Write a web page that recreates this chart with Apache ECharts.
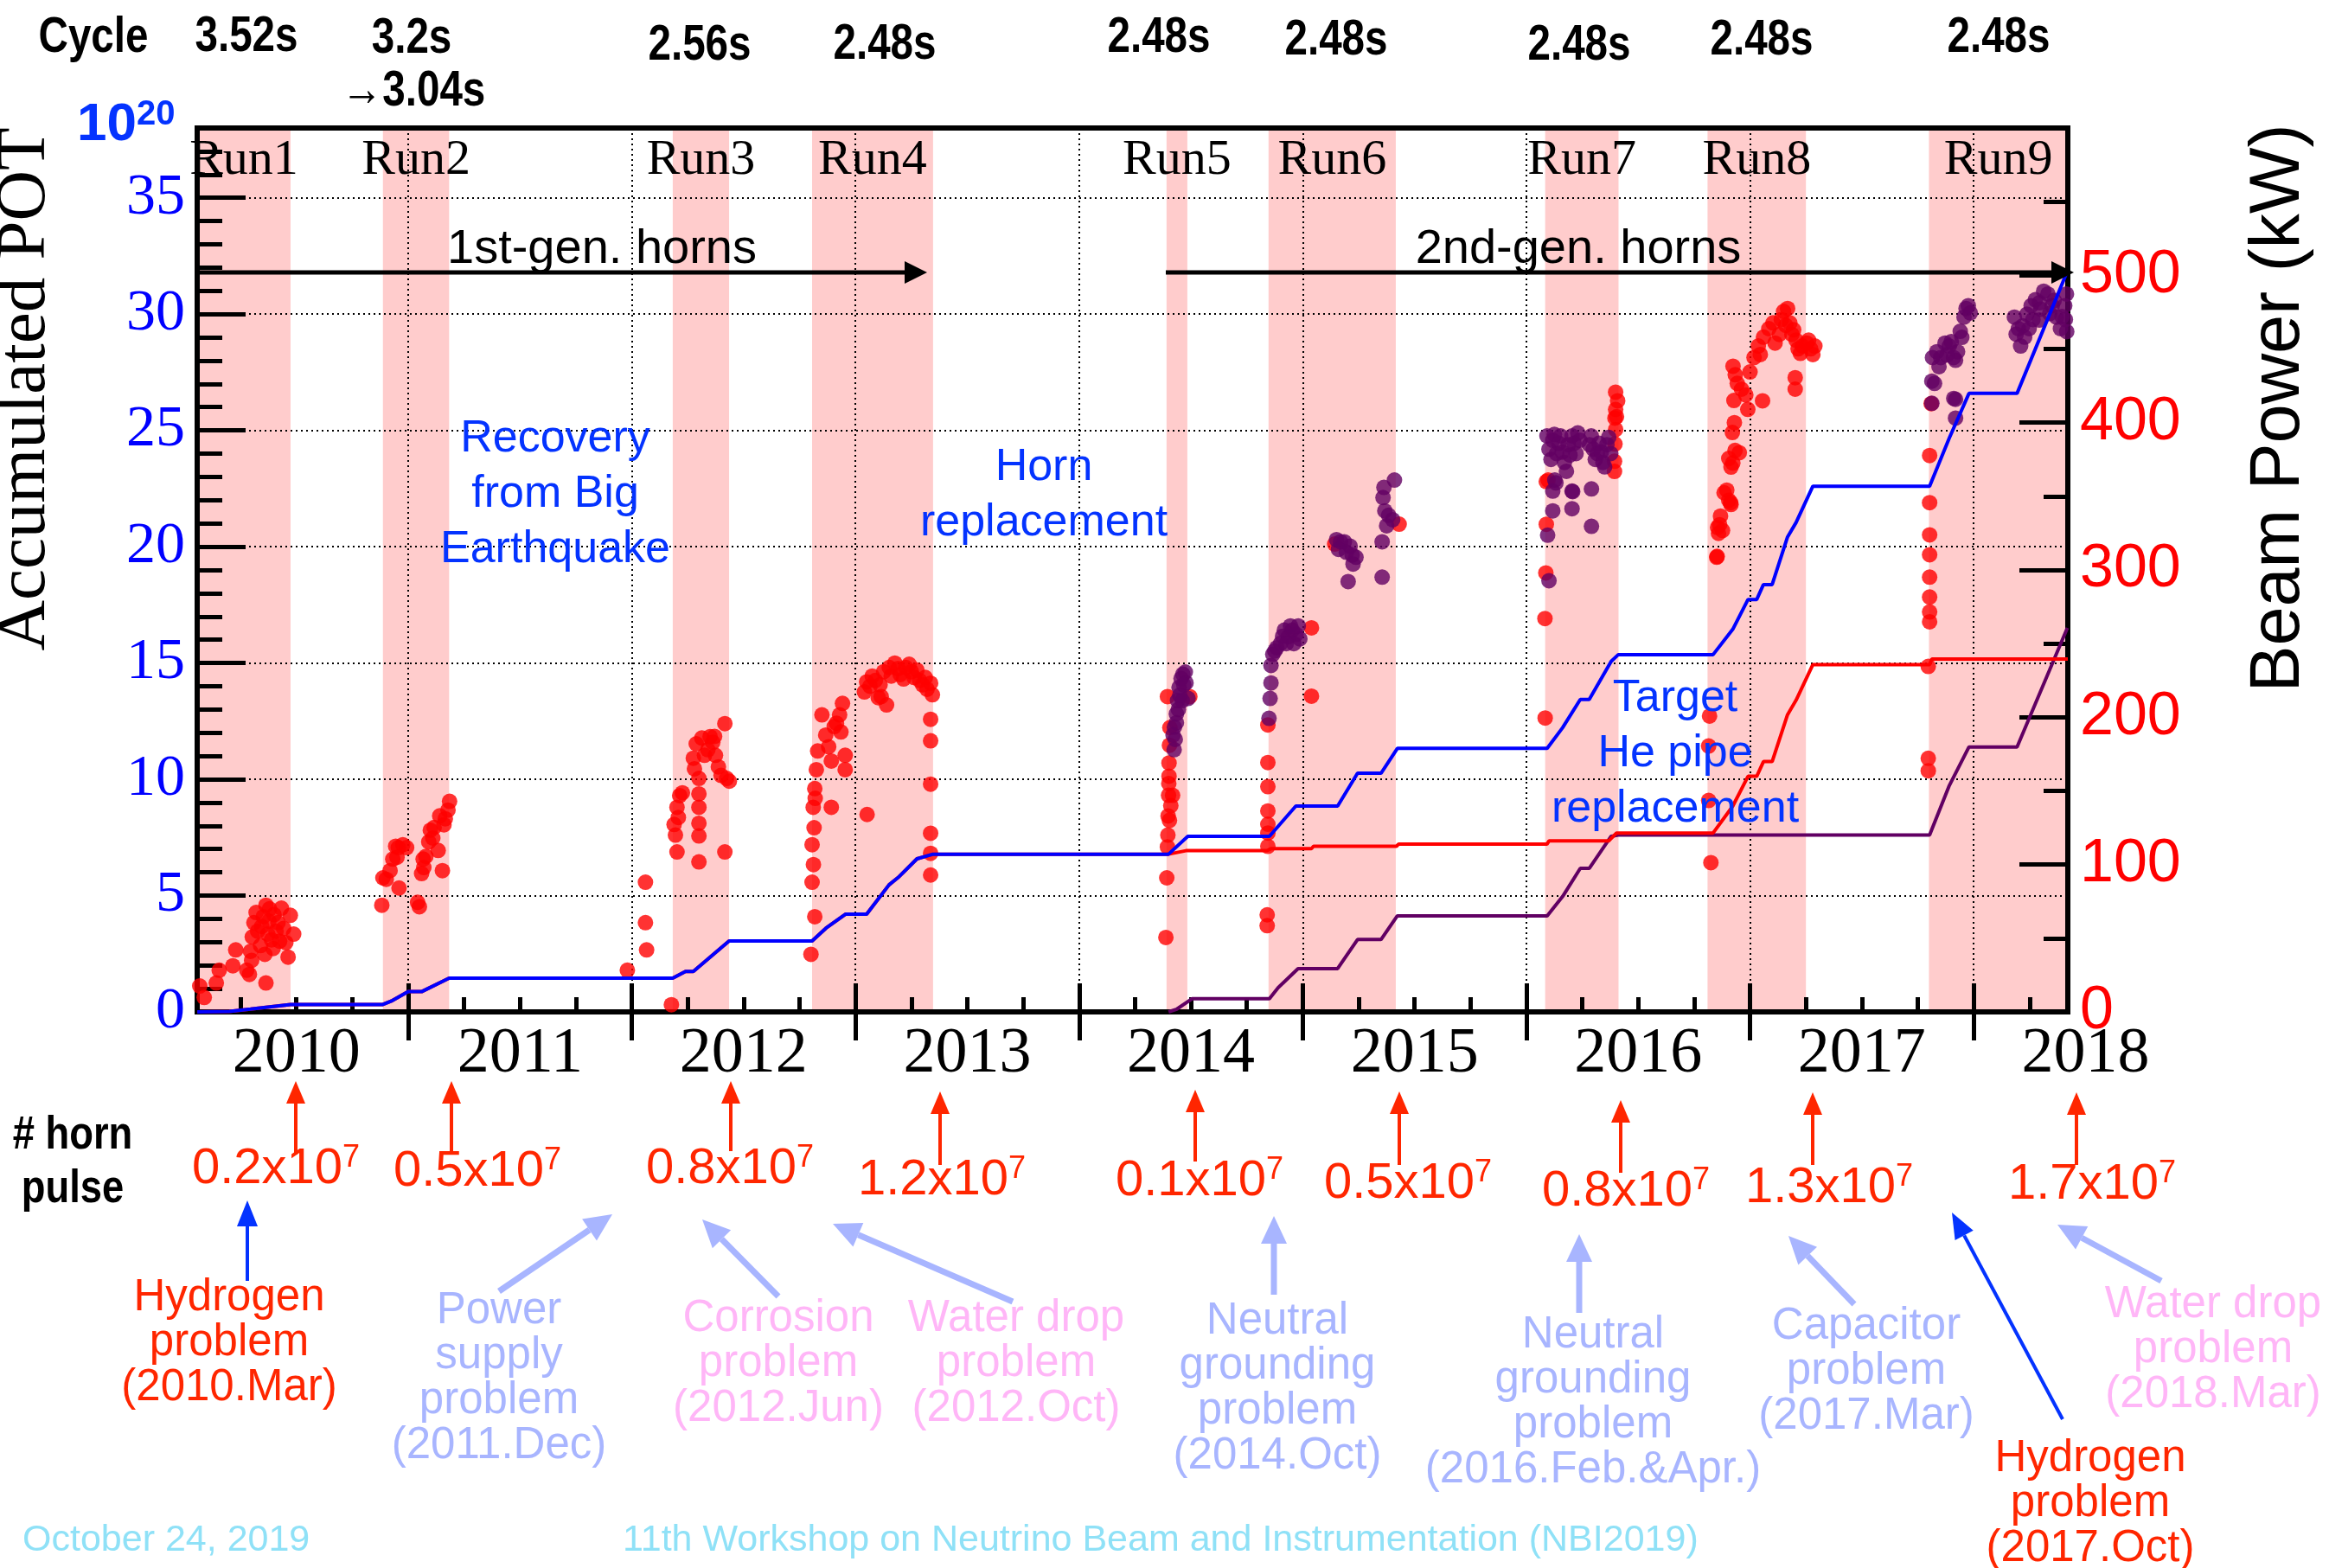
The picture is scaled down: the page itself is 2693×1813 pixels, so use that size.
<!DOCTYPE html>
<html>
<head>
<meta charset="utf-8">
<title>T2K beam operation history</title>
<script src="https://cdn.jsdelivr.net/npm/echarts@6/dist/echarts.min.js"></script>
<style>
  html, body { margin: 0; padding: 0; background: #ffffff; }
  #chart { width: 2693px; height: 1813px; }
</style>
</head>
<body>
<div id="chart"></div>
<script>
// ---------------- data ----------------
// time axis in decimal years
const X_MIN = 2010.0565;
const X_MAX = 2018.421;

const yearLabels = [2010, 2011, 2012, 2013, 2014, 2015, 2016, 2017, 2018];
const yearBoundaryTicks = [2011, 2012, 2013, 2014, 2015, 2016, 2017, 2018];
const quarterTicks = [2010.25, 2010.5, 2010.75, 2011.25, 2011.5, 2011.75, 2012.25, 2012.5, 2012.75,
  2013.25, 2013.5, 2013.75, 2014.25, 2014.5, 2014.75, 2015.25, 2015.5, 2015.75,
  2016.25, 2016.5, 2016.75, 2017.25, 2017.5, 2017.75, 2018.25];
const potMajorTicks = [0, 5, 10, 15, 20, 25, 30, 35];
const potMinorTicks = [1, 2, 3, 4, 6, 7, 8, 9, 11, 12, 13, 14, 16, 17, 18, 19, 21, 22, 23, 24,
  26, 27, 28, 29, 31, 32, 33, 34, 36, 37];

// run periods (beam on)
const runNames = ['Run1', 'Run2', 'Run3', 'Run4', 'Run5', 'Run6', 'Run7', 'Run8', 'Run9'];
const runStart = [2010.0565, 2010.887, 2012.183, 2012.806, 2014.391, 2014.847, 2016.084, 2016.810, 2017.800];
const runEnd   = [2010.474, 2011.183, 2012.435, 2013.347, 2014.484, 2015.416, 2016.412, 2017.250, 2018.421];

// accumulated POT [year, 1e20 POT]
const totalPOT = [[2010.057, 0], [2010.20, 0.02], [2010.295, 0.12], [2010.474, 0.32], [2010.887, 0.32],
  [2010.93, 0.49], [2011.0, 0.87], [2011.06, 0.87], [2011.183, 1.45], [2012.183, 1.45],
  [2012.24, 1.74], [2012.275, 1.74], [2012.435, 3.05], [2012.806, 3.05], [2012.868, 3.6],
  [2012.955, 4.2], [2013.05, 4.2], [2013.15, 5.46], [2013.19, 5.77], [2013.275, 6.58],
  [2013.347, 6.78], [2014.40, 6.78], [2014.486, 7.55], [2014.851, 7.55], [2014.969, 8.85],
  [2015.156, 8.85], [2015.245, 10.26], [2015.35, 10.26], [2015.423, 11.33], [2016.093, 11.33],
  [2016.162, 12.22], [2016.241, 13.43], [2016.281, 13.43], [2016.379, 15.07], [2016.411, 15.36],
  [2016.835, 15.36], [2016.923, 16.45], [2016.991, 17.73], [2017.03, 17.73], [2017.06, 18.37],
  [2017.099, 18.37], [2017.167, 20.4], [2017.206, 21.04], [2017.281, 22.6], [2017.803, 22.6],
  [2017.891, 24.67], [2017.979, 26.59], [2018.194, 26.59], [2018.415, 31.75]];

const nuPOT = [[2010.057, 0], [2010.20, 0.02], [2010.295, 0.12], [2010.474, 0.32], [2010.887, 0.32],
  [2010.93, 0.49], [2011.0, 0.87], [2011.06, 0.87], [2011.183, 1.45], [2012.183, 1.45],
  [2012.24, 1.74], [2012.275, 1.74], [2012.435, 3.05], [2012.806, 3.05], [2012.868, 3.6],
  [2012.955, 4.2], [2013.05, 4.2], [2013.15, 5.46], [2013.19, 5.77], [2013.275, 6.58],
  [2013.347, 6.78], [2014.40, 6.78], [2014.478, 6.93], [2014.841, 6.93], [2014.858, 7.02],
  [2015.039, 7.02], [2015.048, 7.12], [2015.419, 7.12], [2015.428, 7.21], [2016.092, 7.21],
  [2016.101, 7.35], [2016.368, 7.35], [2016.403, 7.69], [2016.835, 7.69], [2016.923, 8.85],
  [2016.991, 10.13], [2017.03, 10.13], [2017.06, 10.76], [2017.099, 10.76], [2017.167, 12.76],
  [2017.206, 13.4], [2017.281, 14.93], [2017.803, 14.93], [2017.813, 15.17], [2018.421, 15.17]];

const antinuPOT = [[2014.40, 0], [2014.437, 0.12], [2014.506, 0.57], [2014.851, 0.57], [2014.89, 1.04],
  [2014.979, 1.86], [2015.156, 1.86], [2015.245, 3.11], [2015.35, 3.11], [2015.423, 4.13],
  [2016.093, 4.13], [2016.162, 4.96], [2016.241, 6.17], [2016.281, 6.17], [2016.379, 7.55],
  [2016.411, 7.6], [2017.803, 7.6], [2017.891, 9.73], [2017.979, 11.39], [2018.194, 11.39],
  [2018.419, 16.51]];

// beam power in neutrino mode [year, kW]
const nuPower = [
  // Run1
  [2010.068, 17.6], [2010.088, 9.8], [2010.142, 19.6], [2010.155, 28.3], [2010.216, 31.3], [2010.229, 42.1],
  [2010.278, 28.3], [2010.290, 25.4], [2010.295, 41.1], [2010.303, 50.9], [2010.310, 60.6], [2010.320, 67.5],
  [2010.327, 54.8], [2010.340, 45.0], [2010.352, 64.6], [2010.359, 39.1], [2010.364, 72.4], [2010.372, 52.8],
  [2010.377, 61.6], [2010.389, 48.9], [2010.396, 43.0], [2010.409, 54.8], [2010.418, 60.6], [2010.433, 70.4],
  [2010.443, 56.7], [2010.453, 47.0], [2010.463, 37.2], [2010.473, 65.6], [2010.488, 52.8], [2010.364, 19.6],
  [2010.300, 35], [2010.345, 58], [2010.400, 66], [2010.425, 48], [2010.38, 70],
  // Run2
  [2010.882, 72.4], [2010.887, 91.0], [2010.902, 90.0], [2010.919, 95.9], [2010.931, 103.7], [2010.944, 112.5],
  [2010.956, 111.5], [2010.976, 113.5], [2010.959, 84.1], [2010.993, 111.5], [2011.042, 74.4], [2011.050, 71.4],
  [2011.060, 93.9], [2011.067, 103.7], [2011.079, 105.6], [2011.092, 115.4], [2011.099, 123.3], [2011.116, 125.2],
  [2011.134, 109.6], [2011.141, 133.1], [2011.153, 95.9], [2011.166, 131.1], [2011.178, 137.0], [2011.185, 142.9],
  [2010.95, 105], [2011.07, 98], [2011.11, 118], [2011.16, 127],
  // Run3
  [2011.980, 28.3], [2012.061, 88.0], [2012.061, 60.6], [2012.066, 42.1], [2012.177, 4.9],
  [2012.189, 127.2], [2012.202, 108.6], [2012.202, 138.9], [2012.214, 146.8], [2012.226, 148.7], [2012.208, 132],
  [2012.195, 120], [2012.275, 172.2], [2012.288, 182.0], [2012.300, 158.5], [2012.300, 138.9], [2012.300, 119.4],
  [2012.300, 101.8], [2012.300, 128], [2012.300, 148], [2012.313, 185.9], [2012.325, 174.2], [2012.350, 186.9],
  [2012.362, 183.0], [2012.374, 174.2], [2012.387, 166.3], [2012.399, 160.5], [2012.416, 195.7], [2012.424, 158.5],
  [2012.436, 156.6], [2012.416, 108.6], [2012.28, 165], [2012.34, 178], [2012.37, 187],
  // Run4
  [2012.801, 39.1], [2012.806, 88.0], [2012.806, 113.5], [2012.811, 138.9], [2012.818, 151.6], [2012.825, 164.4],
  [2012.831, 177.1], [2012.850, 201.6], [2012.867, 187.9], [2012.892, 170.3], [2012.892, 138.9], [2012.905, 193.7],
  [2012.929, 201.6], [2012.942, 209.4], [2012.954, 174.2], [2012.954, 164.4], [2012.818, 64.6], [2012.812, 100],
  [2012.815, 125], [2012.82, 145], [2012.88, 180], [2012.915, 196], [2012.935, 190],
  [2013.040, 217.2], [2013.052, 134.0], [2013.065, 221.1], [2013.089, 225.0], [2013.102, 213.3], [2013.126, 230.9],
  [2013.139, 208.4], [2013.151, 233.8], [2013.176, 236.8], [2013.200, 229.0], [2013.225, 233.8], [2013.250, 230.9],
  [2013.262, 227.0], [2013.287, 225.0], [2013.312, 227.0], [2013.336, 223.1], [2013.344, 215.3], [2013.336, 198.6],
  [2013.336, 184.0], [2013.336, 154.6], [2013.336, 121.3], [2013.336, 107.6], [2013.336, 92.9], [2013.05, 224],
  [2013.075, 228], [2013.11, 222], [2013.16, 228], [2013.19, 233], [2013.215, 226], [2013.24, 236],
  [2013.275, 232], [2013.30, 222], [2013.32, 219], [2013.115, 214],
  // Run5
  [2014.388, 50.5], [2014.392, 91.0], [2014.395, 112], [2014.397, 120], [2014.398, 133], [2014.400, 147],
  [2014.401, 155], [2014.402, 160], [2014.402, 169], [2014.404, 181], [2014.406, 193], [2014.418, 147],
  [2014.395, 214], [2014.495, 214], [2014.410, 140], [2014.404, 130],
  // Run6
  [2014.841, 58.5], [2014.841, 65.9], [2014.844, 112.4], [2014.844, 121.4], [2014.844, 127.4], [2014.844, 136.4],
  [2014.844, 152.9], [2014.844, 169.3], [2014.844, 194.8], [2015.039, 260.7], [2015.039, 214.3], [2015.431, 331.1],
  [2015.143, 317.6],
  // Run7
  [2016.084, 199.5], [2016.083, 267], [2016.087, 298], [2016.089, 331], [2016.089, 360], [2016.097, 361],
  [2016.399, 420.7], [2016.408, 414.8], [2016.399, 408.9], [2016.396, 403.1], [2016.399, 395.3], [2016.396, 385.5],
  [2016.394, 373.8], [2016.394, 366.9], [2016.403, 404],
  // Run8
  [2016.825, 101.3], [2016.815, 143.5], [2016.815, 180.5], [2016.819, 200.8], [2016.853, 309.2], [2016.851, 308.6],
  [2016.855, 328.8], [2016.859, 324.8], [2016.864, 330.7], [2016.868, 336.6], [2016.877, 326.8], [2016.884, 352.4],
  [2016.896, 354.2], [2016.905, 347.3], [2016.913, 345.7], [2016.915, 344.4], [2016.915, 369.8], [2016.905, 375.7],
  [2016.921, 393.3], [2016.923, 372.6], [2016.933, 381.1], [2016.952, 379.6], [2016.924, 438.3], [2016.934, 432.5],
  [2016.943, 426.6], [2016.962, 422.7], [2016.981, 418.8], [2016.990, 409.0], [2017.0, 434.4], [2017.018, 444.2],
  [2017.037, 452.0], [2017.046, 446.2], [2017.056, 414.8], [2017.084, 463.8], [2017.103, 467.7], [2017.112, 454.0],
  [2017.131, 459.9], [2017.150, 475.5], [2017.168, 477.5], [2017.178, 467.7], [2017.187, 459.9], [2017.206, 456.0],
  [2017.215, 450.1], [2017.234, 452.0], [2017.253, 454.0], [2017.271, 450.1], [2017.281, 446.2], [2017.290, 452.0],
  [2017.202, 430.5], [2017.202, 422.7], [2016.93, 400], [2016.928, 415], [2017.06, 458], [2017.14, 470],
  [2017.16, 466], [2017.195, 463], [2017.225, 447], [2017.262, 456],
  // Run9
  [2017.797, 172.1], [2017.797, 163.7], [2017.797, 234.5], [2017.803, 264.8], [2017.803, 271.5], [2017.803, 281.6],
  [2017.803, 295.1], [2017.803, 310.3], [2017.803, 323.8], [2017.803, 345.7], [2017.803, 377.7], [2017.810, 412.9]
];

// beam power in antineutrino mode [year, kW]
const antinuPower = [
  // Run5
  [2014.426, 193.3], [2014.435, 202.3], [2014.440, 211.3], [2014.447, 220.3], [2014.456, 226.3], [2014.464, 229.2],
  [2014.475, 230.7], [2014.478, 223.3], [2014.444, 205.3], [2014.435, 196.3], [2014.461, 211.3], [2014.487, 212.8],
  [2014.43, 185], [2014.45, 215], [2014.468, 222], [2014.42, 188], [2014.425, 178],
  // Run6
  [2014.849, 199.3], [2014.854, 212.8], [2014.858, 223.3], [2014.858, 235.2], [2014.866, 242.7], [2014.884, 247.2],
  [2014.901, 250.2], [2014.918, 259.2], [2014.936, 254.7], [2014.953, 259.2], [2014.970, 256.2], [2014.987, 253.2],
  [2014.875, 245], [2014.91, 255], [2014.945, 262], [2014.96, 250], [2014.98, 262], [2014.926, 250],
  [2015.151, 320.6], [2015.169, 319.1], [2015.186, 319.1], [2015.212, 316.1], [2015.221, 310.1], [2015.238, 308.6],
  [2015.203, 292.1], [2015.355, 319.1], [2015.355, 295.1], [2015.359, 349.1], [2015.367, 340.1], [2015.384, 337.1],
  [2015.402, 334.1], [2015.410, 361.0], [2015.16, 314], [2015.195, 312], [2015.225, 304], [2015.363, 356],
  [2015.375, 330],
  // Run7
  [2016.092, 391], [2016.101, 382], [2016.118, 388], [2016.135, 379], [2016.153, 391], [2016.170, 373],
  [2016.187, 385], [2016.204, 391], [2016.222, 379], [2016.239, 388], [2016.282, 385], [2016.299, 382],
  [2016.317, 379], [2016.342, 373], [2016.360, 385], [2016.377, 379], [2016.179, 367], [2016.110, 375],
  [2016.145, 386], [2016.16, 380], [2016.195, 378], [2016.213, 386], [2016.23, 393], [2016.29, 391],
  [2016.308, 375], [2016.325, 386], [2016.335, 380], [2016.35, 370], [2016.368, 390], [2016.125, 392],
  [2016.127, 361], [2016.118, 353.5], [2016.204, 353.5], [2016.204, 341.6], [2016.291, 355], [2016.291, 329.6],
  [2016.118, 340.1], [2016.095, 323.6], [2016.101, 292.7], [2016.132, 359.1], [2016.207, 353.2],
  // Run9
  [2017.816, 444.2], [2017.825, 426.6], [2017.835, 448.1], [2017.853, 444.2], [2017.872, 454.0], [2017.891, 452.0],
  [2017.910, 444.2], [2017.919, 442.3], [2017.919, 415.8], [2017.919, 403.1], [2017.928, 448.1], [2017.947, 457.9],
  [2017.957, 471.6], [2017.966, 477.5], [2017.976, 479.4], [2017.985, 474.5], [2017.845, 438], [2017.88, 446],
  [2017.90, 455], [2017.94, 462], [2017.813, 413.1], [2017.813, 428.2], [2017.911, 416.4],
  [2018.182, 471.6], [2018.200, 463.8], [2018.210, 452.0], [2018.219, 465.7], [2018.238, 473.6], [2018.257, 479.4],
  [2018.276, 483.4], [2018.294, 481.4], [2018.313, 489.2], [2018.332, 487.3], [2018.351, 479.4], [2018.370, 471.6],
  [2018.388, 463.8], [2018.407, 479.4], [2018.415, 487.3], [2018.416, 461.8], [2018.294, 469.6], [2018.248, 463.8],
  [2018.19, 460], [2018.265, 470], [2018.30, 477], [2018.34, 474], [2018.36, 483], [2018.395, 472],
  [2018.41, 470], [2018.228, 458]
];

// repetition cycle per run
const cycleTimes = ['3.52s', '3.2s', '\u21923.04s', '2.56s', '2.48s', '2.48s', '2.48s', '2.48s', '2.48s', '2.48s'];
// number of horn pulses (x10^7) per period
const hornPulseCounts = ['0.2', '0.5', '0.8', '1.2', '0.1', '0.5', '0.8', '1.3', '1.7'];
// horn troubles
const hornProblems = [
  { text: 'Hydrogen\nproblem\n(2010.Mar)', kind: 'severe' },
  { text: 'Power\nsupply\nproblem\n(2011.Dec)', kind: 'electrical' },
  { text: 'Corrosion\nproblem\n(2012.Jun)', kind: 'water' },
  { text: 'Water drop\nproblem\n(2012.Oct)', kind: 'water' },
  { text: 'Neutral\ngrounding\nproblem\n(2014.Oct)', kind: 'electrical' },
  { text: 'Neutral\ngrounding\nproblem\n(2016.Feb.&Apr.)', kind: 'electrical' },
  { text: 'Capacitor\nproblem\n(2017.Mar)', kind: 'electrical' },
  { text: 'Hydrogen\nproblem\n(2017.Oct)', kind: 'severe' },
  { text: 'Water drop\nproblem\n(2018.Mar)', kind: 'water' }
];
const eventNotes = ['Recovery\nfrom Big\nEarthquake', 'Horn\nreplacement', 'Target\nHe pipe\nreplacement'];

// ---------------- styling / layout ----------------
const SANS = '"Liberation Sans", Arial, Helvetica, sans-serif';
const SERIF = '"Liberation Serif", "Times New Roman", Times, serif';
const C_RED = '#ff0000';
const C_PURPLE = '#610063';
const C_BLUE = '#0000ff';
const C_NOTE_BLUE = '#0433ff';
const C_ARROW_RED = '#ff2600';
const C_LIGHT_BLUE = '#a8b5ff';
const C_PINK = '#ffb6f7';
const C_FOOT = '#8fe1f7';
const problemColor = { severe: C_ARROW_RED, electrical: C_LIGHT_BLUE, water: C_PINK };

const cycleLayout = [[285, 43], [476, 45], [478, 106], [809, 53], [1023, 52], [1340, 44], [1545, 47], [1826, 53], [2037, 47], [2311, 44]];
const pulseArrowLayout = [[342, 1335, 1250], [522, 1331, 1250], [845, 1331, 1250], [1087, 1347, 1262], [1382, 1343, 1260],
  [1618, 1347, 1262], [1874, 1356, 1272], [2096, 1347, 1263], [2401, 1347, 1263]];
const pulseTextLayout = [[319, 1352], [552, 1355], [844, 1352], [1089, 1365], [1387, 1366], [1628, 1369], [1880, 1378], [2115, 1374], [2419, 1370]];
const problemTextLayout = [[265, 1553], [577, 1594], [900, 1577], [1175, 1577], [1477, 1606], [1842, 1622], [2158, 1586], [2417, 1739], [2559, 1561]];
const problemArrowLayout = [
  [286, 1481, 286, 1388, 'strong'], [577, 1493, 708, 1404, 'soft'], [900, 1499, 812, 1410, 'soft'],
  [1171, 1505, 963, 1415, 'soft'], [1473, 1497, 1473, 1406, 'soft'], [1826, 1518, 1826, 1427, 'soft'],
  [2144, 1508, 2068, 1429, 'soft'], [2385, 1641, 2257, 1402, 'strong'], [2499, 1481, 2379, 1416, 'soft']];
const noteLayout = [[642, 572], [1207, 573], [1937, 872]];

function arrow(x1, y1, x2, y2, color, lw, hl, hw) {
  const a = Math.atan2(y2 - y1, x2 - x1);
  const bx = x2 - hl * Math.cos(a), by = y2 - hl * Math.sin(a);
  const px = -Math.sin(a) * hw / 2, py = Math.cos(a) * hw / 2;
  return [
    { type: 'line', z: 100, shape: { x1: x1, y1: y1, x2: bx, y2: by }, style: { stroke: color, lineWidth: lw } },
    { type: 'polygon', z: 100, shape: { points: [[x2, y2], [bx + px, by + py], [bx - px, by - py]] }, style: { fill: color } }
  ];
}
function label(x, y, text, o) {
  return {
    type: 'text', x: x, y: y, z: 100, rotation: o.rot || 0, scaleX: o.sx || 1,
    style: {
      text: text, fill: o.color || '#000', fontSize: o.size, fontFamily: o.family || SANS,
      fontWeight: o.weight || 'normal', align: o.align || 'center', verticalAlign: 'middle',
      lineHeight: o.lh || Math.round(o.size * 1.2), rich: o.rich
    }
  };
}

const chart = echarts.init(document.getElementById('chart'), null, { renderer: 'canvas' });

const tickStyle = { color: '#000', width: 5 };
const dotted = { color: '#000', width: 2, type: [2, 4] };

const runAreas = runNames.map((n, i) => [{ name: n, xAxis: runStart[i] }, { xAxis: runEnd[i] }]);

const option = {
  animation: false,
  backgroundColor: '#ffffff',
  grid: { left: 228, right: 302, top: 148, bottom: 643, show: true, borderColor: '#000', borderWidth: 6, backgroundColor: 'transparent' },
  xAxis: [
    { type: 'value', min: X_MIN, max: X_MAX, position: 'bottom',
      axisLine: { show: true, onZero: false, lineStyle: { color: '#000', width: 6 } },
      axisTick: { show: true, inside: true, length: 33, customValues: yearBoundaryTicks, lineStyle: tickStyle },
      axisLabel: { show: false },
      splitLine: { show: true, lineStyle: dotted } },
    { type: 'value', min: X_MIN, max: X_MAX, position: 'bottom',
      axisLine: { show: false, onZero: false },
      axisTick: { show: true, inside: true, length: 17, customValues: quarterTicks, lineStyle: tickStyle },
      axisLabel: { show: false }, splitLine: { show: false } },
    { type: 'value', min: X_MIN, max: X_MAX, position: 'bottom',
      axisLine: { show: false, onZero: false },
      axisTick: { show: true, inside: false, length: 33, customValues: yearBoundaryTicks, lineStyle: tickStyle },
      axisLabel: { show: false }, splitLine: { show: false } }
  ],
  yAxis: [
    { type: 'value', min: 0, max: 38, position: 'left',
      axisLine: { show: true, onZero: false, lineStyle: { color: '#000', width: 6 } },
      axisTick: { show: true, inside: true, length: 56, customValues: potMajorTicks, lineStyle: tickStyle },
      axisLabel: { customValues: potMajorTicks, color: C_BLUE, fontFamily: SERIF, fontSize: 68, margin: 14 },
      splitLine: { show: true, lineStyle: dotted } },
    { type: 'value', min: 0, max: 600, interval: 100, position: 'right',
      axisLine: { show: true, onZero: false, lineStyle: { color: '#000', width: 6 } },
      axisTick: { show: true, inside: true, length: 56, lineStyle: tickStyle },
      minorTick: { show: true, splitNumber: 2, length: 28, lineStyle: tickStyle },
      axisLabel: { color: C_RED, fontFamily: SANS, fontSize: 70, margin: 14,
        formatter: v => (v >= 600 ? '' : String(v)) },
      splitLine: { show: false } },
    { type: 'value', min: 0, max: 38, position: 'left',
      axisLine: { show: false, onZero: false },
      axisTick: { show: true, inside: true, length: 29, customValues: potMinorTicks, lineStyle: tickStyle },
      axisLabel: { show: false }, splitLine: { show: false } }
  ],
  series: [
    { name: 'nu-mode power', type: 'scatter', xAxisIndex: 0, yAxisIndex: 1, z: 2,
      symbol: 'circle', symbolSize: 18, itemStyle: { color: C_RED }, data: nuPower, silent: true },
    { name: 'antinu-mode power', type: 'scatter', xAxisIndex: 0, yAxisIndex: 1, z: 2,
      symbol: 'circle', symbolSize: 18, itemStyle: { color: C_PURPLE }, data: antinuPower, silent: true },
    { name: 'antinu POT', type: 'line', xAxisIndex: 0, yAxisIndex: 0, z: 4, showSymbol: false, silent: true,
      lineStyle: { color: C_PURPLE, width: 4 }, data: antinuPOT },
    { name: 'nu POT', type: 'line', xAxisIndex: 0, yAxisIndex: 0, z: 5, showSymbol: false, silent: true,
      lineStyle: { color: C_RED, width: 4 }, data: nuPOT },
    { name: 'total POT', type: 'line', xAxisIndex: 0, yAxisIndex: 0, z: 6, showSymbol: false, silent: true,
      lineStyle: { color: C_BLUE, width: 4 }, data: totalPOT,
      markArea: {
        silent: true, z: -1,
        itemStyle: { color: '#ffcccc' },
        label: { show: true, position: 'insideTop', distance: 9, formatter: '{b}', color: '#000',
          fontFamily: SERIF, fontSize: 58 },
        data: runAreas
      } }
  ]
};
chart.setOption(option);

// ---------------- annotations ----------------
const g = [];

// cycle header (condensed bold)
g.push(label(108, 44, 'Cycle', { size: 58, weight: 'bold', sx: 0.82 }));
cycleTimes.forEach((t, i) => g.push(label(cycleLayout[i][0], cycleLayout[i][1], t, { size: 58, weight: 'bold', sx: 0.82 })));

// 10^20 unit
g.push(label(89, 145, '{a|10}{b|20}', { size: 62, align: 'left',
  rich: { a: { fontSize: 62, fontWeight: 'bold', fontFamily: SANS, fill: C_NOTE_BLUE, lineHeight: 64 },
          b: { fontSize: 40, fontWeight: 'bold', fontFamily: SANS, fill: C_NOTE_BLUE, lineHeight: 40, verticalAlign: 'top' } } }));

// axis titles
g.push(label(30, 450, 'Accumulated POT', { size: 81, family: SERIF, rot: Math.PI / 2 }));
g.push(label(2636, 472, 'Beam Power (kW)', { size: 81, rot: Math.PI / 2 }));

// year labels centred on each calendar year
yearLabels.forEach(y => {
  const px = chart.convertToPixel({ xAxisIndex: 0 }, y + 0.5);
  g.push(label(px, 1220, String(y), { size: 74, family: SERIF }));
});

// horn generations
g.push(label(696, 289, '1st-gen. horns', { size: 56 }));
g.push(...arrow(228, 315, 1072, 315, '#000', 5, 26, 26));
g.push(label(1825, 289, '2nd-gen. horns', { size: 56 }));
g.push(...arrow(1348, 315, 2398, 315, '#000', 5, 26, 26));

// maintenance notes inside the frame
eventNotes.forEach((t, i) => g.push(label(noteLayout[i][0], noteLayout[i][1], t, { size: 52, color: C_NOTE_BLUE, lh: 64 })));

// horn pulse counts
g.push(label(84, 1344, '# horn\npulse', { size: 54, weight: 'bold', lh: 62, sx: 0.84 }));
hornPulseCounts.forEach((c, i) => {
  const a = pulseArrowLayout[i];
  g.push(...arrow(a[0], a[1], a[0], a[2], C_ARROW_RED, 4, 26, 22));
  const p = pulseTextLayout[i];
  g.push(label(p[0], p[1], '{m|' + c + 'x10}{s|7}', { size: 58,
    rich: { m: { fontSize: 58, fontFamily: SANS, fill: C_ARROW_RED, lineHeight: 62 },
            s: { fontSize: 36, fontFamily: SANS, fill: C_ARROW_RED, lineHeight: 36, verticalAlign: 'top' } } }));
});

// horn problems
hornProblems.forEach((p, i) => {
  const l = problemTextLayout[i];
  g.push(label(l[0], l[1], p.text, { size: 51, color: problemColor[p.kind], lh: 52 }));
  const a = problemArrowLayout[i];
  if (a[4] === 'strong') g.push(...arrow(a[0], a[1], a[2], a[3], C_NOTE_BLUE, 4, 30, 24));
  else g.push(...arrow(a[0], a[1], a[2], a[3], C_LIGHT_BLUE, 7, 32, 30));
});

// footer
g.push(label(26, 1781, 'October 24, 2019', { size: 43, color: C_FOOT, align: 'left' }));
g.push(label(720, 1781, '11th Workshop on Neutrino Beam and Instrumentation (NBI2019)', { size: 43, color: C_FOOT, align: 'left' }));

chart.setOption({ graphic: { elements: g } });
</script>
</body>
</html>
